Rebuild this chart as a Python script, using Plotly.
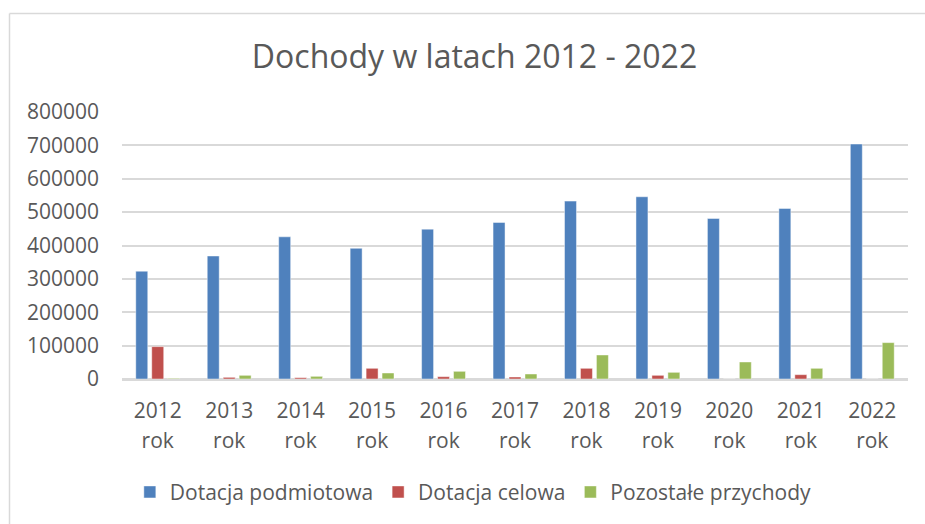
import plotly.graph_objects as go

years = ["2012", "2013", "2014", "2015", "2016", "2017", "2018", "2019", "2020", "2021", "2022"]
year_suffix = "rok"
dotacja_podmiotowa = [323000, 368500, 426000, 391500, 449000, 469000, 533000, 546000, 481000, 511000, 704000]
dotacja_celowa = [97000, 5000, 4000, 32000, 7000, 6000, 32000, 11000, 0, 13000, 0]
pozostale_przychody = [2000, 11000, 8000, 18000, 23000, 15000, 72000, 20000, 51000, 32000, 109000]
y_ticks = [0, 100000, 200000, 300000, 400000, 500000, 600000, 700000, 800000]

FONT = "Open Sans"
TXT = "#595959"
FS = 21

fig = go.Figure()
series = [
    ("Dotacja podmiotowa", dotacja_podmiotowa, "#4f81bd"),
    ("Dotacja celowa", dotacja_celowa, "#c0504d"),
    ("Pozostałe przychody", pozostale_przychody, "#9bbb59"),
]
for name, vals, col in series:
    fig.add_trace(go.Bar(
        name=name, x=years, y=vals,
        marker=dict(color=col, line=dict(color="rgba(255,255,255,0.45)", width=1)),
    ))

# invisible helper trace so the second ("rok") label row is drawn
fig.add_trace(go.Scatter(x=list(range(len(years))), y=[0] * len(years), xaxis="x2", yaxis="y",
                         mode="markers", marker=dict(opacity=0, size=1), showlegend=False,
                         hoverinfo="skip"))

fig.update_layout(
    width=925, height=524,
    paper_bgcolor="white", plot_bgcolor="white",
    margin=dict(l=122, r=17, t=112, b=143.5),
    barmode="group", bargap=0.33, bargroupgap=0.25,
    font=dict(family=FONT, size=FS, color=TXT),
    title=dict(text="Dochody w latach 2012 - 2022", x=0.513, xref="container", xanchor="center",
               y=1 - 57 / 524, yref="container", yanchor="middle",
               font=dict(family=FONT, size=32, color=TXT)),
    legend=dict(orientation="h", x=0.447, xanchor="center", y=(380.5 - 493) / 268.5, yanchor="middle",
                font=dict(family=FONT, size=FS, color=TXT), itemwidth=30, traceorder="normal"),
    showlegend=True,
    xaxis2=dict(overlaying="x", side="bottom", anchor="y", type="linear",
                range=[-0.5, len(years) - 0.5], tickvals=list(range(len(years))),
                ticktext=[year_suffix] * len(years), showgrid=False, zeroline=False,
                showline=False, ticks="", ticklabelstandoff=47,
                tickfont=dict(family=FONT, size=FS, color=TXT), fixedrange=True),
)
fig.update_yaxes(range=[0, 800000], tickvals=y_ticks, ticktext=[str(v) for v in y_ticks],
                 showgrid=True, gridcolor="#d9d9d9", gridwidth=1.5, zeroline=True,
                 zerolinecolor="#d9d9d9", zerolinewidth=1.5, showline=False,
                 ticks="", ticklabelstandoff=22, tickfont=dict(family=FONT, size=FS, color=TXT))
fig.update_layout(xaxis=dict(showline=True, linecolor="#d9d9d9", linewidth=1.5, ticks="",
                             tickfont=dict(family=FONT, size=FS, color=TXT), ticklabelstandoff=12))

fig.add_shape(type="line", xref="paper", yref="paper", x0=(9.5 - 122) / 786, x1=(9.5 - 122) / 786,
              y0=(380.5 - 13) / 268.5, y1=(380.5 - 530) / 268.5, line=dict(color="#d9d9d9", width=1.5))
fig.add_shape(type="line", xref="paper", yref="paper", x0=(9.5 - 122) / 786, x1=(930 - 122) / 786,
              y0=(380.5 - 13) / 268.5, y1=(380.5 - 13) / 268.5, line=dict(color="#d9d9d9", width=1.5))

fig.write_html("out.html", config={"displayModeBar": False},
               post_script="document.body.style.margin='0';document.body.style.overflow='hidden';")
